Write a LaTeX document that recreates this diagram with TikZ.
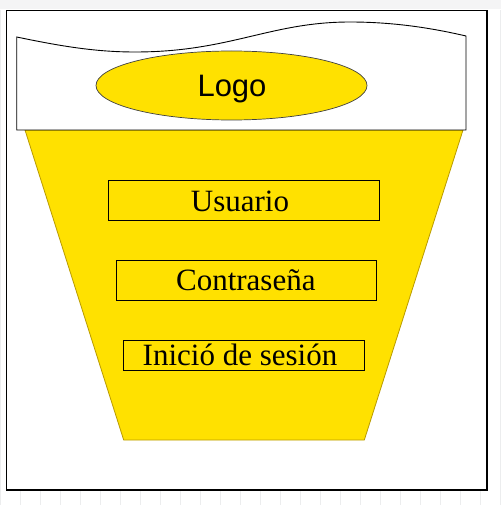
\documentclass[tikz,border=0pt]{standalone}
\usepackage{fontspec}
\setmainfont{Liberation Serif}
\newfontfamily\logofont{Liberation Sans}
\usepackage{tikz}
\definecolor{panelyellow}{RGB}{255,225,0}
\definecolor{paneledge}{RGB}{185,155,0}
\definecolor{sheetgray}{RGB}{236,237,238}
\tikzset{
	fieldbox/.style={draw=black, line width=0.9pt},
	fieldtext/.style={anchor=base, inner sep=0pt, font=\fontsize{31}{31}\selectfont},
}

\begin{document}
\begin{tikzpicture}[x=1pt, y=-1pt]
			%%%%% START %%%%%
			
			\useasboundingbox (0, 0) rectangle (501, 505);
			\fill[white] (0, 0) rectangle (501, 505);
			\fill[sheetgray!60] (0, 0) rectangle (501, 9);
			\draw[sheetgray, line width=0.6pt, step=20] (0, 10) grid (501, 505);
			
			\draw[fill=white, line width=1.2pt] (6.7, 10.5) rectangle (487, 490);
			
			\draw[fill=panelyellow, draw=paneledge, line width=0.8pt] (25, 130) -- (463, 130) -- (364.3, 440) -- (123.7, 440) -- cycle;
			
			\draw[fill=white, line width=0.9pt] (16.7, 130) -- (16.7, 37) .. controls (60, 46) and (95, 52) .. (135, 52) .. controls (230, 52) and (270, 22) .. (350, 22) .. controls (400, 22) and (440, 30) .. (466, 36) -- (466, 130) -- cycle;
			
			\draw[fill=panelyellow, draw=black!75, line width=0.7pt] (231.5, 85.5) ellipse (135.5 and 34.5);
			\node[anchor=base, inner sep=0pt, font=\logofont\fontsize{31}{31}\selectfont] (logo) at (232, 97) {Logo};
			
			\draw[fieldbox] (108.3, 180.7) rectangle (379.3, 220.3);
			\node[fieldtext] (usuario) at (240, 211.7) {Usuario};
			
			\draw[fieldbox] (116.3, 260.7) rectangle (376.7, 300.3);
			\node[fieldtext] (contrasena) at (245.8, 290.7) {Contraseña};
			
			\draw[fieldbox] (123.7, 340.3) rectangle (364.3, 370.7);
			\node[fieldtext] (inicio) at (240, 365) {Inició de sesión};
			
			%%%%% END %%%%%
		\end{tikzpicture}
\end{document}
